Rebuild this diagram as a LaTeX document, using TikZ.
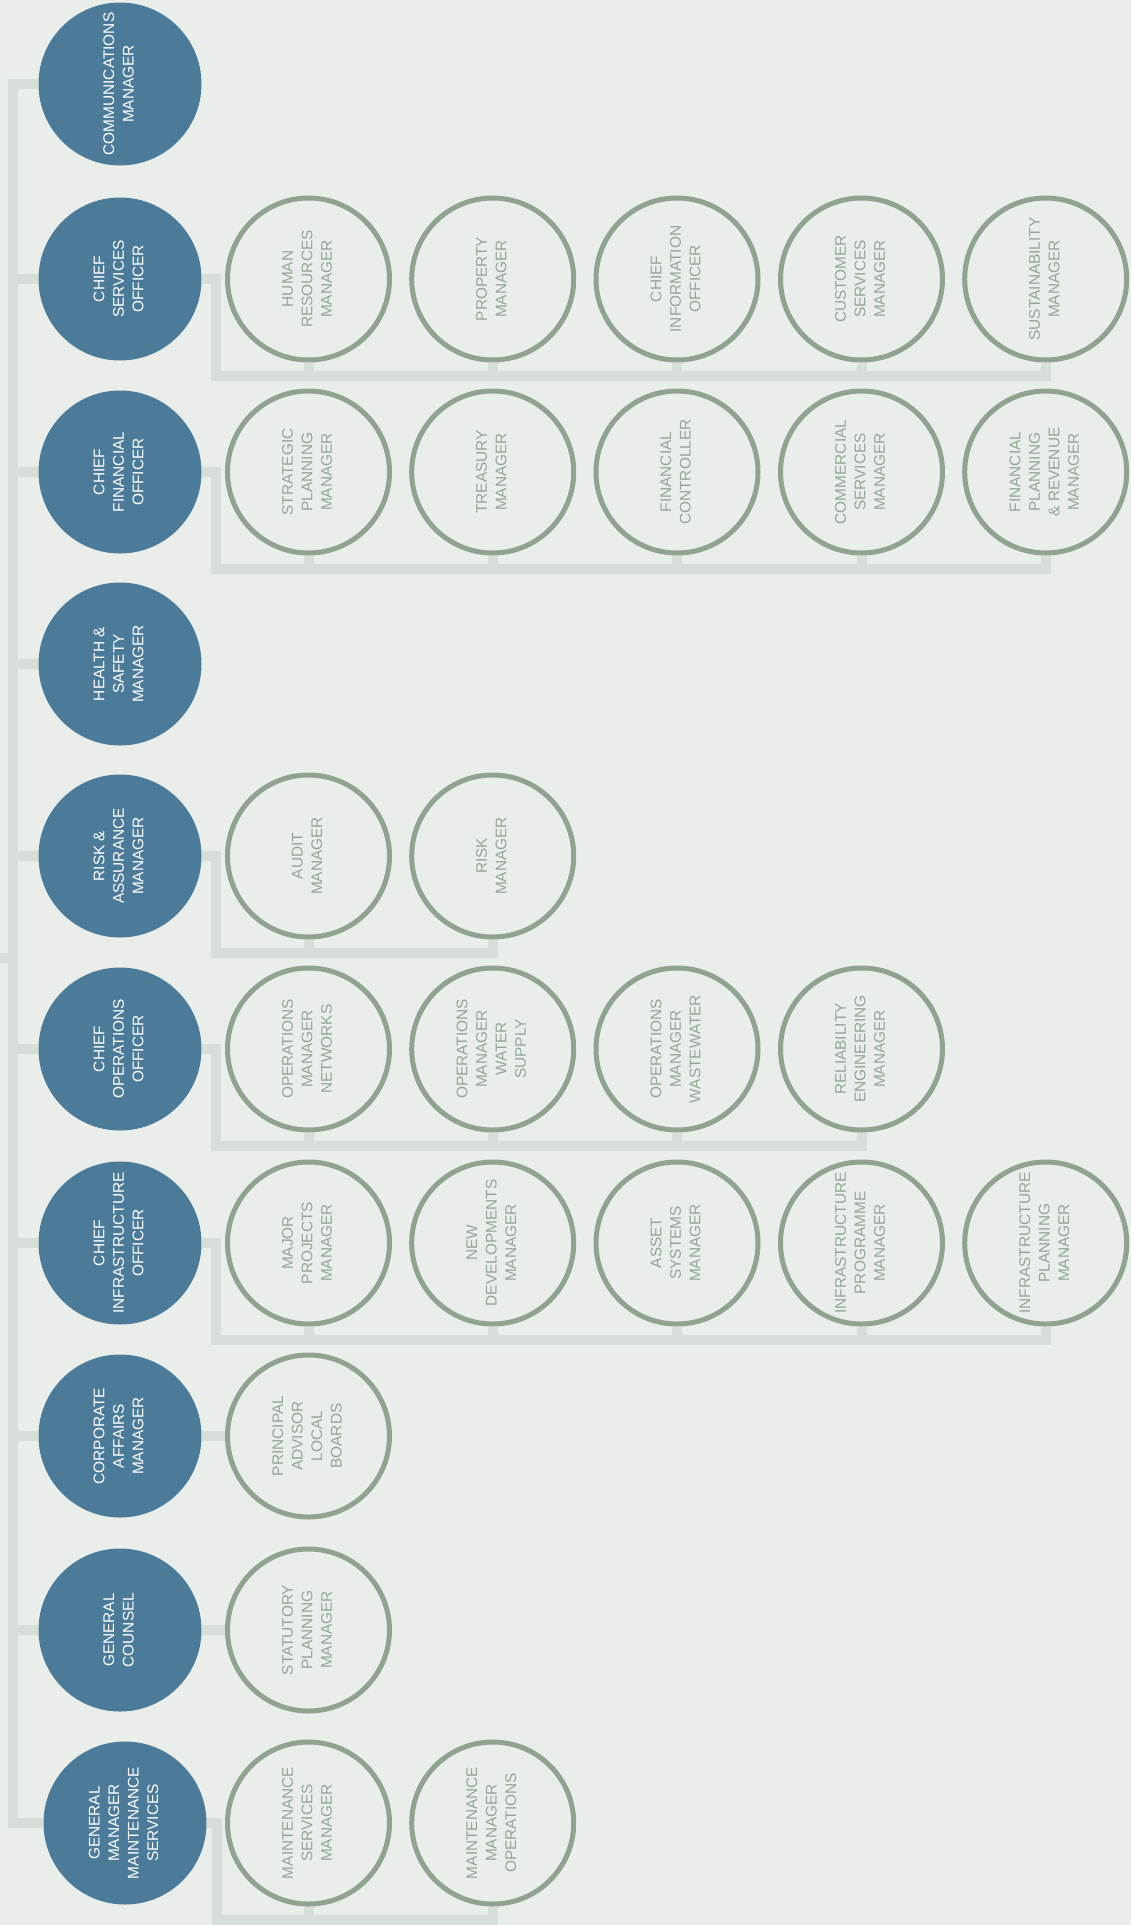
\documentclass[tikz,border=0pt]{standalone}
\usepackage{fontspec}
\setmainfont{Liberation Sans}
\usetikzlibrary{backgrounds}
\definecolor{bgc}{HTML}{E9EEEA}
\definecolor{busc}{HTML}{D7DED8}
\definecolor{bluec}{HTML}{4C7B9A}
\definecolor{ringc}{HTML}{8FA38F}
\definecolor{subtext}{HTML}{93A694}
\newcommand{\rt}[1]{\rotatebox{90}{\begin{tabular}{@{}c@{}}#1\end{tabular}}}
\tikzset{
  bus/.style={line width=10pt, draw=busc, line join=miter, line cap=butt},
  head/.style={circle, fill=bluec, minimum size=163pt, inner sep=0pt, text=white,
    font=\fontsize{15.4}{19.5}\selectfont},
  sub/.style={circle, draw=ringc, line width=5pt, fill=bgc, minimum size=162pt, inner sep=0pt,
    text=subtext, font=\fontsize{15.4}{19.5}\selectfont}
}
\begin{document}
\begin{tikzpicture}[x=1pt,y=-1pt]
\useasboundingbox (0,0) rectangle (1131,1925);

% heads
\node[head] (h0) at (120,84)   {\rt{COMMUNICATIONS\\MANAGER}};
\node[head] (h1) at (120,279)  {\rt{CHIEF\\SERVICES\\OFFICER}};
\node[head] (h2) at (120,472)  {\rt{CHIEF\\FINANCIAL\\OFFICER}};
\node[head] (h3) at (120,664)  {\rt{HEALTH \&\\SAFETY\\MANAGER}};
\node[head] (h4) at (120,856)  {\rt{RISK \&\\ASSURANCE\\MANAGER}};
\node[head] (h5) at (120,1049) {\rt{CHIEF\\OPERATIONS\\OFFICER}};
\node[head] (h6) at (120,1243) {\rt{CHIEF\\INFRASTRUCTURE\\OFFICER}};
\node[head] (h7) at (120,1436) {\rt{CORPORATE\\AFFAIRS\\MANAGER}};
\node[head] (h8) at (120,1630) {\rt{GENERAL\\COUNSEL}};
\node[head] (h9) at (125,1823) {\rt{GENERAL\\MANAGER\\MAINTENANCE\\SERVICES}};

% bus coordinates
\coordinate (sp) at (13,0);
\coordinate (parent) at (0,958);
\coordinate (b1) at (216,376);
\coordinate (b2) at (216,569);
\coordinate (b4) at (216,953);
\coordinate (b5) at (216,1146);
\coordinate (b6) at (216,1340);
\coordinate (b9) at (217,1920);

% row 1
\node[sub] (c11) at (308.5,279)  {\rt{HUMAN\\RESOURCES\\MANAGER}};
\node[sub] (c12) at (492.7,279)  {\rt{PROPERTY\\MANAGER}};
\node[sub] (c13) at (677,279)    {\rt{CHIEF\\INFORMATION\\OFFICER}};
\node[sub] (c14) at (861.5,279)  {\rt{CUSTOMER\\SERVICES\\MANAGER}};
\node[sub] (c15) at (1045.7,279) {\rt{SUSTAINABILITY\\MANAGER}};
% row 2
\node[sub] (c21) at (308.5,472)  {\rt{STRATEGIC\\PLANNING\\MANAGER}};
\node[sub] (c22) at (492.7,472)  {\rt{TREASURY\\MANAGER}};
\node[sub] (c23) at (677,472)    {\rt{FINANCIAL\\CONTROLLER}};
\node[sub] (c24) at (861.5,472)  {\rt{COMMERCIAL\\SERVICES\\MANAGER}};
\node[sub] (c25) at (1045.7,472) {\rt{FINANCIAL\\PLANNING\\\& REVENUE\\MANAGER}};
% row 4
\node[sub] (c41) at (308.5,856)  {\rt{AUDIT\\MANAGER}};
\node[sub] (c42) at (492.7,856)  {\rt{RISK\\MANAGER}};
% row 5
\node[sub] (c51) at (308.5,1049) {\rt{OPERATIONS\\MANAGER\\NETWORKS}};
\node[sub] (c52) at (492.7,1049) {\rt{OPERATIONS\\MANAGER\\WATER\\SUPPLY}};
\node[sub] (c53) at (677,1049)   {\rt{OPERATIONS\\MANAGER\\WASTEWATER}};
\node[sub] (c54) at (861.5,1049) {\rt{RELIABILITY\\ENGINEERING\\MANAGER}};
% row 6
\node[sub] (c61) at (308.5,1243) {\rt{MAJOR\\PROJECTS\\MANAGER}};
\node[sub] (c62) at (492.7,1243) {\rt{NEW\\DEVELOPMENTS\\MANAGER}};
\node[sub] (c63) at (677,1243)   {\rt{ASSET\\SYSTEMS\\MANAGER}};
\node[sub] (c64) at (861.5,1243) {\rt{INFRASTRUCTURE\\PROGRAMME\\MANAGER}};
\node[sub] (c65) at (1045.7,1243){\rt{INFRASTRUCTURE\\PLANNING\\MANAGER}};
% row 7, 8
\node[sub] (c71) at (308.5,1436) {\rt{PRINCIPAL\\ADVISOR\\LOCAL\\BOARDS}};
\node[sub] (c81) at (308.5,1630) {\rt{STATUTORY\\PLANNING\\MANAGER}};
% row 9
\node[sub] (c91) at (308.5,1823) {\rt{MAINTENANCE\\SERVICES\\MANAGER}};
\node[sub] (c92) at (492.7,1823) {\rt{MAINTENANCE\\MANAGER\\OPERATIONS}};

% background and connectors (behind nodes)
\begin{scope}[on background layer]
\fill[bgc] (0,0) rectangle (1131,1925);
% main spine
\draw[bus] (h0.west) -| (sp |- h9.west) -- (h9.west);
\foreach \k in {1,...,8} { \draw[bus] (h\k.west) -- (h\k.west -| sp); }
\draw[bus] (parent) -- (parent -| sp);
% sub buses
\draw[bus] (h1.east) -| (b1) -| (c15.south);
\foreach \i in {1,...,4} { \draw[bus] (c1\i.south) -- (c1\i.south |- b1); }
\draw[bus] (h2.east) -| (b2) -| (c25.south);
\foreach \i in {1,...,4} { \draw[bus] (c2\i.south) -- (c2\i.south |- b2); }
\draw[bus] (h4.east) -| (b4) -| (c42.south);
\draw[bus] (c41.south) -- (c41.south |- b4);
\draw[bus] (h5.east) -| (b5) -| (c54.south);
\foreach \i in {1,...,3} { \draw[bus] (c5\i.south) -- (c5\i.south |- b5); }
\draw[bus] (h6.east) -| (b6) -| (c65.south);
\foreach \i in {1,...,4} { \draw[bus] (c6\i.south) -- (c6\i.south |- b6); }
\draw[bus] (h7.east) -- (c71.west);
\draw[bus] (h8.east) -- (c81.west);
\draw[bus] (h9.east) -| (b9) -| (c92.south);
\draw[bus] (c91.south) -- (c91.south |- b9);
\end{scope}
\end{tikzpicture}
\end{document}
